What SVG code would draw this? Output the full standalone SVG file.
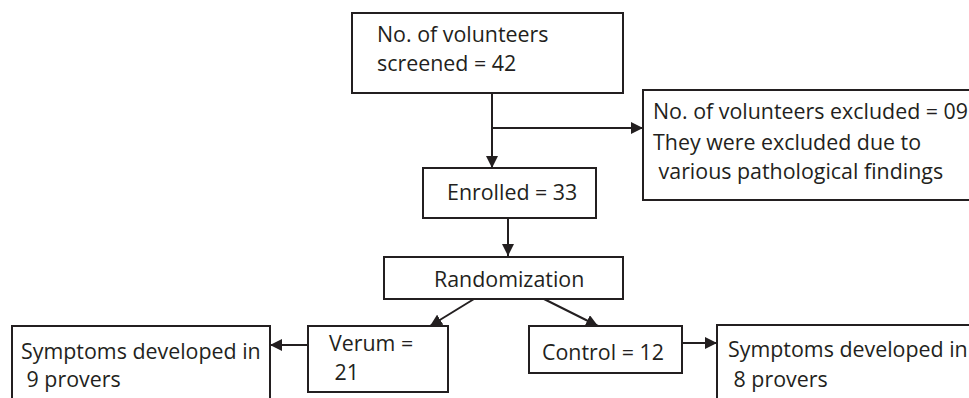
<svg xmlns="http://www.w3.org/2000/svg" width="969" height="398" viewBox="0 0 969 398">
<style>
.box{fill:#fff;stroke:#231f20;stroke-width:2}
.t{font-family:"Open Sans","Noto Sans",sans-serif;font-size:21.4px;fill:#231f20}
.c{fill:none;stroke:#231f20;stroke-width:2}
</style>
<defs>
<marker id="ah" viewBox="0 0 10 10" refX="10" refY="5" markerWidth="6" markerHeight="6" orient="auto" markerUnits="strokeWidth">
<path d="M0,0 L10,5 L0,10 Z" fill="#231f20"/>
</marker>
</defs>
<rect width="969" height="398" fill="#fff"/>
<g id="connectors">
<line class="c" x1="492" y1="93" x2="492" y2="168" marker-end="url(#ah)"/>
<line class="c" x1="492" y1="128" x2="643" y2="128" marker-end="url(#ah)"/>
<line class="c" x1="508" y1="218" x2="508" y2="256" marker-end="url(#ah)"/>
<line class="c" x1="474" y1="299" x2="430" y2="326" marker-end="url(#ah)"/>
<line class="c" x1="544" y1="299" x2="598" y2="326" marker-end="url(#ah)"/>
<line class="c" x1="308" y1="345" x2="270" y2="345" marker-end="url(#ah)"/>
<line class="c" x1="682" y1="343" x2="717" y2="343" marker-end="url(#ah)"/>
</g>
<g id="screened">
<rect class="box" x="352" y="13" width="271" height="80"/>
<text class="t" x="377" y="42">No. of volunteers</text>
<text class="t" x="377" y="71">screened = 42</text>
</g>
<g id="excluded">
<rect class="box" x="643" y="90" width="340" height="110"/>
<text class="t" x="653" y="119">No. of volunteers excluded = 09</text>
<text class="t" x="653" y="150">They were excluded due to</text>
<text class="t" x="653" y="179" xml:space="preserve"> various pathological findings</text>
</g>
<g id="enrolled">
<rect class="box" x="423" y="168" width="173" height="50"/>
<text class="t" x="447" y="200">Enrolled = 33</text>
</g>
<g id="randomization">
<rect class="box" x="384" y="257" width="239" height="42"/>
<text class="t" x="434" y="287">Randomization</text>
</g>
<g id="verum">
<rect class="box" x="308" y="326" width="140" height="66"/>
<text class="t" x="329" y="351">Verum =</text>
<text class="t" x="329" y="380" xml:space="preserve"> 21</text>
</g>
<g id="control">
<rect class="box" x="529" y="326" width="153" height="47"/>
<text class="t" x="542" y="360">Control = 12</text>
</g>
<g id="symptoms-verum">
<rect class="box" x="12" y="326" width="258" height="90"/>
<text class="t" x="21" y="359">Symptoms developed in</text>
<text class="t" x="21" y="387" xml:space="preserve"> 9 provers</text>
</g>
<g id="symptoms-control">
<rect class="box" x="717" y="325" width="280" height="90"/>
<text class="t" x="728" y="357">Symptoms developed in</text>
<text class="t" x="728" y="387" xml:space="preserve"> 8 provers</text>
</g>
</svg>
